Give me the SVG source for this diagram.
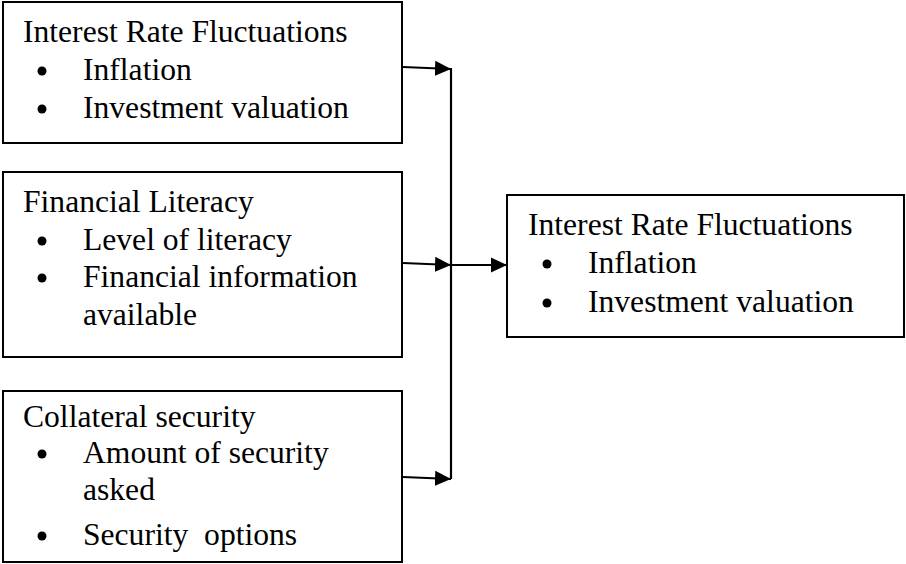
<svg xmlns="http://www.w3.org/2000/svg" width="906" height="564" viewBox="0 0 906 564">
<defs>
<style>
.box{fill:#fff;stroke:#000;stroke-width:2}
.t{font-family:"Liberation Serif","Times New Roman",serif;font-size:31.6px;fill:#000;white-space:pre}
.c{fill:none;stroke:#000;stroke-width:2.2}
</style>
<marker id="ah" markerUnits="userSpaceOnUse" markerWidth="16" markerHeight="16" refX="16" refY="8" orient="auto">
<path d="M0,0.5 L16,8 L0,15.5 Z" fill="#000"/>
</marker>
</defs>
<rect width="906" height="564" fill="#fff"/>
<g id="node-interest">
<rect class="box" x="3" y="2" width="399" height="141"/>
<text class="t" x="23" y="42">Interest Rate Fluctuations</text>
<circle cx="42" cy="71" r="4.5"/>
<text class="t" x="83" y="80">Inflation</text>
<circle cx="42" cy="109" r="4.5"/>
<text class="t" x="83" y="118">Investment valuation</text>
</g>
<g id="node-literacy">
<rect class="box" x="3" y="172" width="399" height="185"/>
<text class="t" x="23" y="212">Financial Literacy</text>
<circle cx="42" cy="241" r="4.5"/>
<text class="t" x="83" y="250">Level of literacy</text>
<circle cx="42" cy="278" r="4.5"/>
<text class="t" x="83" y="287">Financial information</text>
<text class="t" x="83" y="325">available</text>
</g>
<g id="node-collateral">
<rect class="box" x="3" y="391" width="399" height="171"/>
<text class="t" x="23" y="427">Collateral security</text>
<circle cx="42" cy="454" r="4.5"/>
<text class="t" x="83" y="463">Amount of security</text>
<text class="t" x="83" y="500">asked</text>
<circle cx="42" cy="536" r="4.5"/>
<text class="t" x="83" y="545" xml:space="preserve">Security  options</text>
</g>
<g id="node-outcome">
<rect class="box" x="507" y="195" width="397" height="142"/>
<text class="t" x="528" y="235">Interest Rate Fluctuations</text>
<circle cx="547" cy="264" r="4.5"/>
<text class="t" x="588" y="273">Inflation</text>
<circle cx="547" cy="303" r="4.5"/>
<text class="t" x="588" y="312">Investment valuation</text>
</g>
<g id="connectors">
<line class="c" x1="451" y1="68" x2="451" y2="479"/>
<line class="c" x1="403" y1="67" x2="451" y2="69" marker-end="url(#ah)"/>
<line class="c" x1="403" y1="263" x2="451" y2="265" marker-end="url(#ah)"/>
<line class="c" x1="451" y1="265" x2="507" y2="265" marker-end="url(#ah)"/>
<line class="c" x1="403" y1="477" x2="451" y2="479" marker-end="url(#ah)"/>
</g>
</svg>
